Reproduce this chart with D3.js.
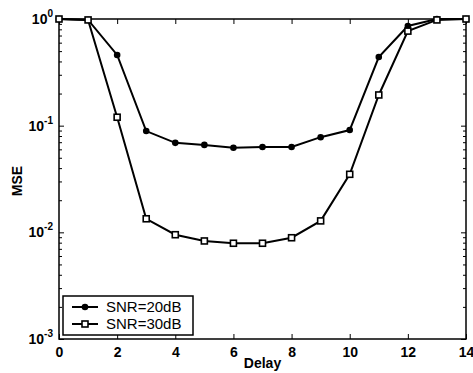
<!DOCTYPE html>
<html>
<head>
<meta charset="utf-8">
<script src="https://cdn.jsdelivr.net/npm/d3@7"></script>
<style>
  body { margin: 0; background: #fff; }
  text { font-family: "Liberation Sans", Arial, sans-serif; fill: #000; }
</style>
</head>
<body>
<div id="chart"></div>
<script>
// data
const delays = [0, 1, 2, 3, 4, 5, 6, 7, 8, 9, 10, 11, 12, 13, 14];
const mse20 = [1.0, 0.98, 0.46, 0.089, 0.069, 0.066, 0.062, 0.063, 0.063, 0.078, 0.091, 0.44, 0.86, 1.0, 1.0];
const mse30 = [1.0, 0.98, 0.12, 0.0134, 0.0095, 0.0083, 0.0079, 0.0079, 0.0089, 0.0128, 0.035, 0.194, 0.77, 0.98, 1.0];
const seriesNames = ["SNR=20dB", "SNR=30dB"];
const xTicks = [0, 2, 4, 6, 8, 10, 12, 14];
const yExponents = [0, -1, -2, -3];

const W = 473, H = 373;
const margin = { top: 19, right: 7, bottom: 34, left: 59 };
const width = W - margin.left - margin.right;
const height = H - margin.top - margin.bottom;

const svg = d3.select('#chart').append('svg')
  .attr('width', W)
  .attr('height', H);

const g = svg.append('g')
  .attr('transform', `translate(${margin.left},${margin.top})`);

const x = d3.scaleLinear().domain([0, 14]).range([0, width]);
const y = d3.scaleLog().domain([1e-3, 1]).range([height, 0]);

// minor log ticks
const minorTicks = [];
for (let e = -3; e < 0; e++) {
  for (let m = 1; m < 10; m++) minorTicks.push(m * Math.pow(10, e));
}
minorTicks.push(1);
const isMajor = d => Math.abs(Math.log10(d) % 1) < 1e-9;

// box
g.append('rect')
  .attr('width', width).attr('height', height)
  .attr('fill', 'none').attr('stroke', '#000').attr('stroke-width', 1.5);

// bottom axis, inward ticks
const xb = g.append('g').attr('transform', `translate(0,${height})`)
  .call(d3.axisBottom(x).tickValues(xTicks).tickSizeInner(-5).tickSizeOuter(0).tickPadding(8));
xb.select('.domain').remove();
xb.selectAll('text').style('font-size', '14px').style('font-weight', 'bold');

// top axis ticks
const xt = g.append('g')
  .call(d3.axisTop(x).tickValues(xTicks).tickSizeInner(-5).tickSizeOuter(0).tickFormat(''));
xt.select('.domain').remove();

// left axis
const yl = g.append('g')
  .call(d3.axisLeft(y).tickValues(minorTicks).tickSizeInner(-3).tickSizeOuter(0).tickFormat(''));
yl.select('.domain').remove();
yl.selectAll('.tick line').attr('x2', d => isMajor(d) ? 5 : 3);

// right axis
const yr = g.append('g').attr('transform', `translate(${width},0)`)
  .call(d3.axisRight(y).tickValues(minorTicks).tickSizeInner(-3).tickSizeOuter(0).tickFormat(''));
yr.select('.domain').remove();
yr.selectAll('.tick line').attr('x2', d => isMajor(d) ? -5 : -3);

// y tick labels 10^n
const ylab = g.append('g').selectAll('text')
  .data(yExponents)
  .join('text')
  .attr('x', -6)
  .attr('y', d => y(Math.pow(10, d)) + 5)
  .attr('text-anchor', 'end')
  .style('font-size', '14px')
  .style('font-weight', 'bold');
ylab.append('tspan').text('10');
ylab.append('tspan').attr('dy', -7).style('font-size', '10px').text(d => d);

// axis labels
g.append('text')
  .attr('x', width / 2).attr('y', height + 29)
  .attr('text-anchor', 'middle')
  .style('font-size', '14px').style('font-weight', 'bold')
  .text('Delay');

g.append('text')
  .attr('transform', `translate(${-37},${height / 2 + 2}) rotate(-90)`)
  .attr('text-anchor', 'middle')
  .style('font-size', '14px').style('font-weight', 'bold')
  .text('MSE');

const line = d3.line()
  .x((d, i) => x(delays[i]))
  .y(d => y(d));

g.append('path').datum(mse20)
  .attr('d', line).attr('fill', 'none').attr('stroke', '#000').attr('stroke-width', 2);
g.append('path').datum(mse30)
  .attr('d', line).attr('fill', 'none').attr('stroke', '#000').attr('stroke-width', 2);

g.append('g').selectAll('circle')
  .data(mse20)
  .join('circle')
  .attr('cx', (d, i) => x(delays[i]))
  .attr('cy', d => y(d))
  .attr('r', 3.3)
  .attr('fill', '#000');

g.append('g').selectAll('rect')
  .data(mse30)
  .join('rect')
  .attr('x', (d, i) => x(delays[i]) - 3)
  .attr('y', d => y(d) - 3)
  .attr('width', 6).attr('height', 6)
  .attr('fill', '#fff').attr('stroke', '#000').attr('stroke-width', 1.6);

// legend
const lg = g.append('g').attr('transform', `translate(4,${height - 43})`);
lg.append('rect')
  .attr('width', 130).attr('height', 39)
  .attr('fill', '#fff').attr('stroke', '#000').attr('stroke-width', 1.5);
seriesNames.forEach((name, i) => {
  const yy = 11 + i * 17;
  lg.append('line').attr('x1', 9).attr('x2', 35).attr('y1', yy).attr('y2', yy)
    .attr('stroke', '#000').attr('stroke-width', 2);
  if (i === 0) {
    lg.append('circle').attr('cx', 22).attr('cy', yy).attr('r', 3.3).attr('fill', '#000');
  } else {
    lg.append('rect').attr('x', 19).attr('y', yy - 3).attr('width', 6).attr('height', 6)
      .attr('fill', '#fff').attr('stroke', '#000').attr('stroke-width', 1.6);
  }
  lg.append('text').attr('x', 43).attr('y', yy + 5)
    .style('font-size', '15px')
    .text(name);
});
</script>
</body>
</html>
